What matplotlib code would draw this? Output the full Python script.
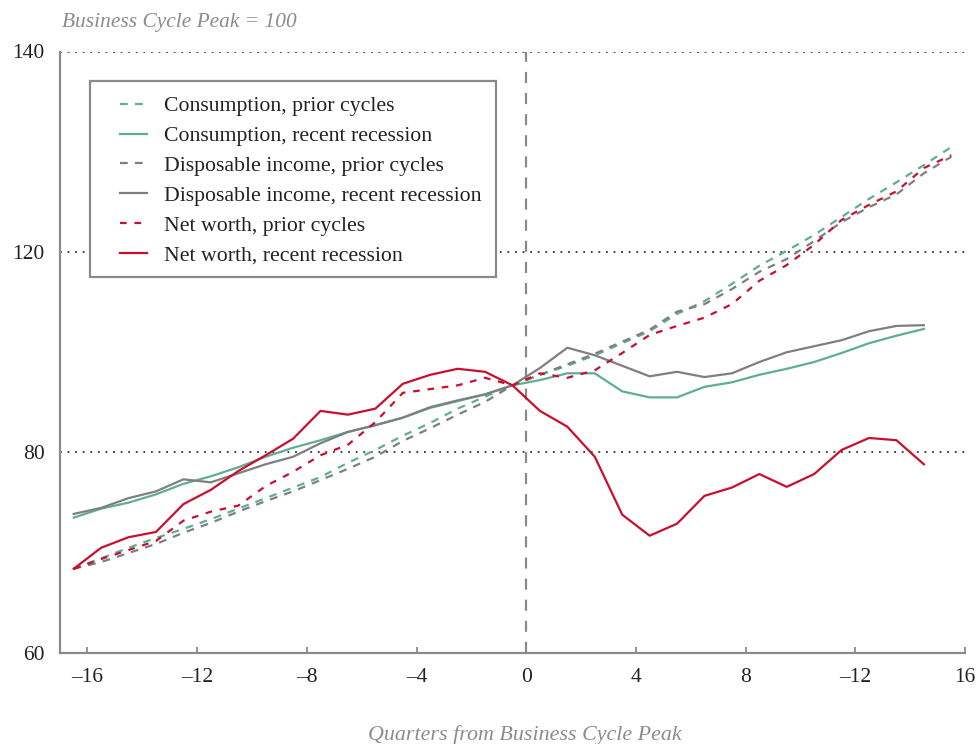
import matplotlib
matplotlib.use("Agg")
import matplotlib.pyplot as plt
from matplotlib.patches import Rectangle

# quarters from peak (points sit at half quarters)
quarters_prior = [q - 0.5 for q in range(-16, 17)]
quarters_recent = [q - 0.5 for q in range(-16, 16)]

cons_prior = [71.2, 72.6, 74.0, 75.3, 76.5, 77.8, 79.2, 80.6, 82.0, 83.4, 85.3, 87.0,
              88.9, 90.6, 92.5, 94.1, 95.6, 97.0, 98.2, 99.6, 101.2, 102.8, 105.1, 106.8,
              109.1, 111.5, 113.5, 115.6, 118.0, 120.4, 122.6, 124.9, 127.3]
cons_recent = [78.0, 79.2, 80.0, 81.1, 82.5, 83.5, 84.7, 86.1, 87.3, 88.3, 89.4, 90.3,
               91.3, 92.6, 93.5, 94.4, 95.6, 96.3, 97.2, 97.2, 94.8, 94.0, 94.0, 95.4,
               96.0, 97.0, 97.8, 98.7, 99.9, 101.2, 102.2, 103.1]
inc_prior = [71.2, 72.1, 73.3, 74.5, 76.0, 77.3, 78.8, 80.2, 81.5, 83.0, 84.5, 86.1,
             88.2, 89.9, 91.7, 93.4, 95.6, 97.0, 98.4, 99.8, 101.4, 103.0, 105.4, 106.4,
             108.4, 110.7, 112.4, 114.8, 117.3, 119.3, 121.0, 123.8, 126.0]
inc_recent = [78.5, 79.3, 80.6, 81.5, 83.1, 82.7, 83.9, 85.1, 86.1, 87.9, 89.4, 90.3,
              91.3, 92.7, 93.6, 94.4, 95.6, 97.9, 100.6, 99.6, 98.2, 96.8, 97.4, 96.7,
              97.2, 98.7, 100.0, 100.8, 101.6, 102.8, 103.5, 103.6]
nw_prior = [71.2, 72.5, 73.7, 74.9, 77.6, 78.8, 79.6, 82.2, 84.1, 86.3, 87.7, 90.7,
            94.6, 95.1, 95.6, 96.6, 95.6, 97.2, 96.6, 97.6, 99.9, 102.3, 103.5, 104.6,
            106.4, 109.5, 111.6, 114.3, 117.6, 119.6, 121.4, 124.5, 126.2]
nw_recent = [71.2, 74.0, 75.4, 76.1, 79.8, 81.7, 84.2, 86.3, 88.5, 92.2, 91.7, 92.5,
             95.8, 97.0, 97.8, 97.4, 95.6, 92.2, 90.1, 86.1, 78.4, 75.6, 77.2, 80.9,
             82.0, 83.8, 82.1, 83.8, 87.0, 88.6, 88.3, 85.1]

x_ticks = [-16, -12, -8, -4, 0, 4, 8, 12, 16]
x_tick_labels = ["\u201316", "\u201312", "\u20138", "\u20134", "0", "4", "8", "\u201312", "16"]
y_ticks = [60, 60 + 80 / 3, 60 + 160 / 3, 140]
y_tick_labels = ["60", "80", "120", "140"]

green = "#5fae93"
gray = "#7f7f7f"
red = "#c8102e"
axis_gray = "#8a8a8a"

plt.rcParams["font.family"] = ["Liberation Serif", "DejaVu Serif"]

fig = plt.figure(figsize=(9.77, 7.44), dpi=100)
ax = fig.add_axes([60 / 977, 1 - 653 / 744, 905 / 977, 601.5 / 744])

lw = 1.6
ax.plot(quarters_prior, cons_prior, color=green, lw=lw, dashes=(3.5, 3.2),
        label="Consumption, prior cycles")
ax.plot(quarters_recent, cons_recent, color=green, lw=lw,
        label="Consumption, recent recession")
ax.plot(quarters_prior, inc_prior, color=gray, lw=lw, dashes=(3.5, 3.2),
        label="Disposable income, prior cycles")
ax.plot(quarters_recent, inc_recent, color=gray, lw=lw,
        label="Disposable income, recent recession")
ax.plot(quarters_prior, nw_prior, color=red, lw=lw, dashes=(3.0, 3.5),
        label="Net worth, prior cycles")
ax.plot(quarters_recent, nw_recent, color=red, lw=lw,
        label="Net worth, recent recession")

ax.axvline(0, color=axis_gray, lw=1.6, dashes=(5, 4.5), zorder=1)

ax.set_xlim(-17, 16)
ax.set_ylim(60, 140)
ax.set_xticks(x_ticks)
ax.set_xticklabels(x_tick_labels)
ax.set_yticks(y_ticks)
ax.set_yticklabels(y_tick_labels)

for y in y_ticks[1:]:
    ax.axhline(y, color="#333333", lw=1.3, linestyle=(0, (1, 3.2)), zorder=0)

for side in ["top", "right"]:
    ax.spines[side].set_visible(False)
for side in ["left", "bottom"]:
    ax.spines[side].set_color(axis_gray)
    ax.spines[side].set_linewidth(1.6)

ax.tick_params(axis="x", direction="in", length=4, width=1.3, color=axis_gray,
               pad=11, labelsize=15.5, labelcolor="#222222")
ax.tick_params(axis="y", length=0, pad=11, labelsize=15.5, labelcolor="#222222")

# legend box drawn by hand, legend itself without frame
box = Rectangle((0.0331, 0.625), 0.4487, 0.326, transform=ax.transAxes,
                facecolor="white", edgecolor=axis_gray, lw=1.6, zorder=4)
ax.add_patch(box)
leg = ax.legend(loc="upper left", bbox_to_anchor=(0.0665, 0.926), borderaxespad=0,
                borderpad=0, fontsize=15.7, frameon=False, handlelength=1.25,
                handletextpad=0.75, labelspacing=0.44)
leg.set_zorder(5)
for t in leg.get_texts():
    t.set_color("#222222")

fig.text(62 / 977, 1 - 22 / 744, "Business Cycle Peak = 100", style="italic",
         color="#8c8c8c", fontsize=15.4, ha="left", va="center")
fig.text(525 / 977, 1 - 725 / 744, "Quarters from Business Cycle Peak", style="italic",
         color="#8c8c8c", fontsize=15.8, ha="center", va="top")

fig.savefig("out.png", dpi=100)
